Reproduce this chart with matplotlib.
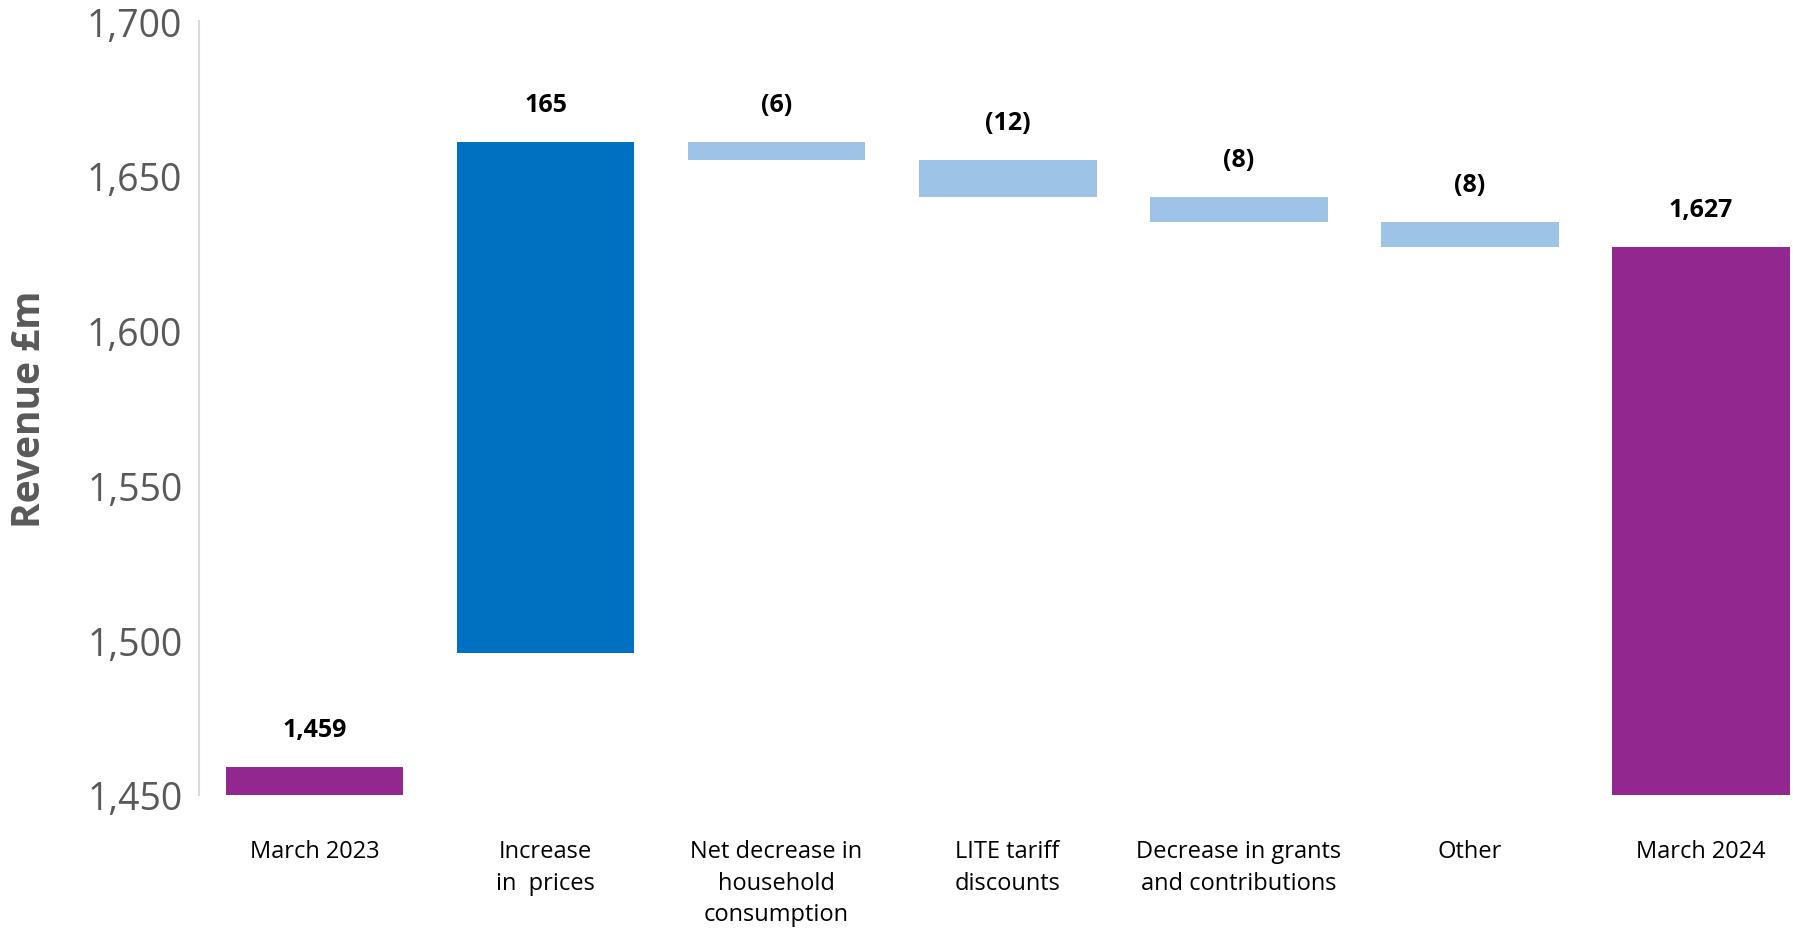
import numpy as np
import matplotlib.pyplot as plt

plt.rcParams['font.family'] = ['Open Sans', 'DejaVu Sans']

# Revenue bridge, £m
categories = ['March 2023', 'Increase\nin  prices', 'Net decrease in\nhousehold\nconsumption',
              'LITE tariff\ndiscounts', 'Decrease in grants\nand contributions', 'Other', 'March 2024']
opening = 1459
changes = [165, -6, -12, -8, -8]
closing = 1627
yticks = [1450, 1500, 1550, 1600, 1650, 1700]

PURPLE = '#92278F'
BLUE = '#0070C0'
LIGHT_BLUE = '#9DC3E6'
GREY = '#595959'

# the steps are chained back from the closing total
change_start = closing - sum(changes)
levels = change_start + np.concatenate([[0], np.cumsum(changes)])

fig = plt.figure(figsize=(17.93, 9.37), dpi=100)
ax = fig.add_axes([0.111, 0.1505, 0.889, 0.826])

x = np.arange(len(categories))
w = 0.77
ymin = yticks[0]

# opening and closing totals
ax.bar(x[0], opening - ymin, bottom=ymin, width=w, color=PURPLE)
ax.bar(x[-1], closing - ymin, bottom=ymin, width=w, color=PURPLE)

labels = [(x[0], opening, f'{opening:,}')]
for i, c in enumerate(changes):
    lo, hi = sorted([levels[i], levels[i + 1]])
    ax.bar(x[i + 1], hi - lo, bottom=lo, width=w, color=BLUE if c > 0 else LIGHT_BLUE)
    txt = f'{c:,}' if c > 0 else f'({-c:,})'
    labels.append((x[i + 1], hi, txt))
labels.append((x[-1], closing, f'{closing:,}'))

for xi, top, txt in labels:
    ax.annotate(txt, (xi, top), xytext=(0, 27), textcoords='offset points',
                ha='center', va='center', fontsize=18, fontweight='bold', color='black')

ax.set_ylim(ymin, yticks[-1])
ax.set_xlim(-0.5, 6.4)
ax.set_yticks(yticks)
ax.set_yticklabels([f'{v:,}' for v in yticks])
ax.set_xticks(x)
ax.set_xticklabels(categories, fontsize=17, linespacing=1.4, va='top')
ax.tick_params(axis='y', length=0, pad=12, labelsize=27, labelcolor=GREY)
ax.tick_params(axis='x', length=0, pad=32)

ax.set_ylabel('Revenue £m', fontsize=28, fontweight='bold', color=GREY)
ax.yaxis.set_label_coords(-0.094, 0.5)

for s in ['top', 'right', 'bottom']:
    ax.spines[s].set_visible(False)
ax.spines['left'].set_color('#D9D9D9')
ax.spines['left'].set_linewidth(1.5)

fig.savefig('out.png', dpi=100)
